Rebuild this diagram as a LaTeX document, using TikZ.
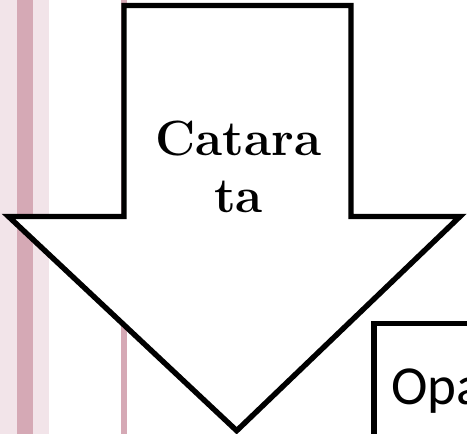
\documentclass[tikz,border=0pt]{standalone}
\usepackage{fontspec}
\newfontfamily\carlito{Carlito}
\definecolor{pinklight}{HTML}{F2E4E9}
\definecolor{pinkdark}{HTML}{D5A9B5}
\begin{document}
\begin{tikzpicture}[x=1pt,y=-1pt,
  outline/.style={draw=black,line width=5.4pt,fill=white,miter limit=20},
  bigword/.style={inner sep=0pt,anchor=base,font=\fontsize{49.5}{58}\selectfont\bfseries},
  boxword/.style={inner sep=0pt,anchor=base west,font=\carlito\fontsize{55}{66}\selectfont}]
\useasboundingbox (0,0) rectangle (467,434);
\clip (0,0) rectangle (467,434);
% background stripes
\fill[pinklight] (0,0) rectangle (49,434);
\fill[pinkdark] (17,0) rectangle (33,434);
\fill[pinkdark] (120.5,0) rectangle (127,434);
% arrow
\draw[outline] (124,5.5) -- (351,5.5) -- (351,216.5) -- (460,216.5)
  -- (236.7,430.7) -- (8.5,216.5) -- (124,216.5) -- cycle;
\node[bigword] (w1) at (238.5,155) {Catara};
\node[bigword] (w2) at (238.5,212.5) {ta};
% box
\draw[outline] (374,323.5) rectangle (520,480);
\node[boxword] (b1) at (391,404) {Opa};
\end{tikzpicture}
\end{document}
